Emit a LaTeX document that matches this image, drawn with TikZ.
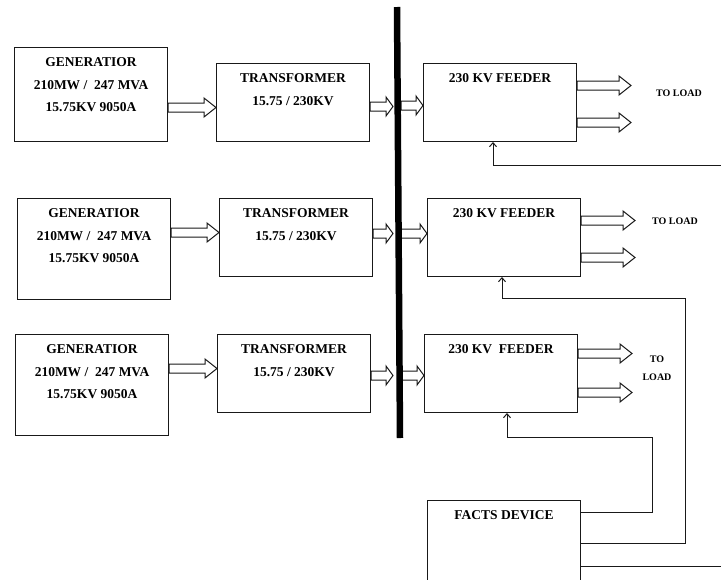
\documentclass[tikz,border=0pt]{standalone}
\usepackage{fontspec}
\setmainfont{Liberation Serif}
\usetikzlibrary{positioning,calc,arrows.meta}

\newcommand{\boxfont}{\fontsize{13.5}{22.5}\selectfont\bfseries}
\newcommand{\loadfont}{\fontsize{10}{18}\selectfont\bfseries}

% hollow block arrow: \fatarrow[head length]{(start)}{(end)}
\newcommand{\fatarrow}[3][11pt]{%
  \draw[fat] let \p1=#2, \p2=#3 in
    (\x1,\y1+4.5pt) -- (\x2-#1,\y1+4.5pt) -- (\x2-#1,\y1+9.5pt) -- (\x2,\y1)
    -- (\x2-#1,\y1-9.5pt) -- (\x2-#1,\y1-4.5pt) -- (\x1,\y1-4.5pt) -- cycle;}

\begin{document}
\begin{tikzpicture}[x=1pt, y=-1pt,
    block/.style={draw=black!90, line width=1pt, minimum width=153pt,
      minimum height=78pt, inner sep=0pt},
    gen/.style={block, minimum height=101pt},
    boxtitle/.style={anchor=north, align=center, inner sep=0pt, yshift=-10.5pt, font=\boxfont},
    loadtxt/.style={align=center, inner sep=0pt, font=\loadfont},
    fat/.style={draw=black!90, line width=1pt, fill=white},
    fb/.style={draw=black!90, line width=1pt, -{Straight Barb[length=4pt, width=7pt]}},
    busbar/.style={line width=6.5pt}]

    \useasboundingbox (0,0) rectangle (721,579);
    \clip (0,0) rectangle (721,579);

    % Generators
    \node[gen, minimum height=94pt, anchor=north west,
      label={[boxtitle]north:{GENERATIOR\\210MW /\ \ 247 MVA\\15.75KV 9050A}}] (gen1) at (14,47) {};
    \node[gen, below=56pt of gen1.south west, anchor=north west, xshift=3pt,
      label={[boxtitle]north:{GENERATIOR\\210MW /\ \ 247 MVA\\15.75KV 9050A}}] (gen2) {};
    \node[gen, below=34pt of gen2.south west, anchor=north west, xshift=-2pt,
      label={[boxtitle]north:{GENERATIOR\\210MW /\ \ 247 MVA\\15.75KV 9050A}}] (gen3) {};

    % Transformers
    \node[block, right=48pt of gen1.north east, anchor=north west, yshift=-16pt,
      label={[boxtitle]north:{TRANSFORMER\\15.75 / 230KV}}] (trans1) {};
    \node[block, right=48pt of gen2.north east, anchor=north west,
      label={[boxtitle]north:{TRANSFORMER\\15.75 / 230KV}}] (trans2) {};
    \node[block, right=48pt of gen3.north east, anchor=north west,
      label={[boxtitle]north:{TRANSFORMER\\15.75 / 230KV}}] (trans3) {};

    % Feeders
    \node[block, right=53pt of trans1.north east, anchor=north west,
      label={[boxtitle]north:{230 KV FEEDER}}] (feed1) {};
    \node[block, right=54pt of trans2.north east, anchor=north west,
      label={[boxtitle]north:{230 KV FEEDER}}] (feed2) {};
    \node[block, right=53pt of trans3.north east, anchor=north west,
      label={[boxtitle]north:{230 KV\ \ FEEDER}}] (feed3) {};

    \node[block, minimum height=100pt, below=87pt of feed3.south west, anchor=north west,
      xshift=3pt, label={[boxtitle]north:{FACTS DEVICE}}] (facts) {};

    \node[loadtxt] (load1) at (679,93) {TO LOAD};
    \node[loadtxt] (load2) at (675,221) {TO LOAD};
    \node[loadtxt] (load3) at (657,368) {TO\\LOAD};

    % Bus
    \coordinate (bustop) at (397,7);
    \coordinate (busbot) at (400,438);

    % Power flow
    \fatarrow[12pt]{([yshift=-13pt]gen1.east)}{(trans1.west)}
    \fatarrow[12pt]{([yshift=16.5pt]gen2.east)}{(trans2.west)}
    \fatarrow[12pt]{([yshift=16.5pt]gen3.east)}{(trans3.west)}

    \fatarrow[7pt]{([yshift=-4pt]trans1.east)}{([xshift=-4pt]bustop)}
    \fatarrow[7pt]{([yshift=4pt]trans2.east)}{([xshift=-4pt]bustop)}
    \fatarrow[7pt]{([yshift=-2pt]trans3.east)}{([xshift=-4pt]bustop)}

    \fatarrow[7pt]{([xshift=4pt,yshift=-3pt]bustop |- feed1.west)}{(feed1.west)}
    \fatarrow[7pt]{([xshift=4pt,yshift=4pt]bustop |- feed2.west)}{(feed2.west)}
    \fatarrow[7pt]{([xshift=4pt,yshift=-2pt]bustop |- feed3.west)}{(feed3.west)}

    \draw[busbar] (bustop) -- (busbot);

    \fatarrow[12pt]{([yshift=17pt]feed1.east)}{([xshift=54pt]feed1.east)}
    \fatarrow[12pt]{([yshift=-20pt]feed1.east)}{([xshift=54pt]feed1.east)}
    \fatarrow[12pt]{([yshift=17pt]feed2.east)}{([xshift=54pt]feed2.east)}
    \fatarrow[12pt]{([yshift=-20pt]feed2.east)}{([xshift=54pt]feed2.east)}
    \fatarrow[12pt]{([yshift=20pt]feed3.east)}{([xshift=54pt]feed3.east)}
    \fatarrow[12pt]{([yshift=-19pt]feed3.east)}{([xshift=54pt]feed3.east)}

    % Control lines
    \draw[fb] ([yshift=38pt]facts.east) -| (652,437) -| ([xshift=6pt]feed3.south);
    \draw[fb] ([yshift=7pt]facts.east) -| (685,298) -| ([xshift=-2pt]feed2.south);
    \draw[fb] ([yshift=-16pt]facts.east) -| (730,165) -| ([xshift=-7pt]feed1.south);

\end{tikzpicture}
\end{document}
